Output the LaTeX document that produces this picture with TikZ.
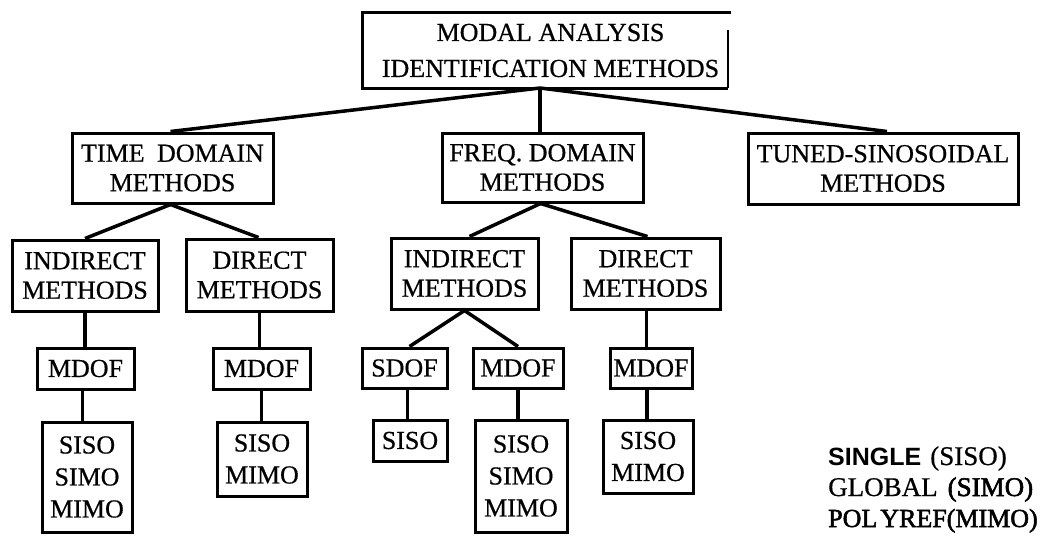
\documentclass[tikz,border=0pt]{standalone}
\usepackage{fontspec}
\setmainfont{Liberation Serif}[FakeBold=0.6]
\setsansfont{Liberation Sans}
\newfontfamily\heavyserif{Liberation Serif}[FakeBold=2]
\newcommand\boxfont{\fontsize{26}{29.5}\selectfont}
\newcommand\listfont{\fontsize{26}{32}\selectfont}
\begin{document}
\begin{tikzpicture}[x=1pt,y=-1pt,
  box/.style={draw, line width=3pt, inner sep=0pt, align=center, font=\boxfont},
  tall/.style={box, font=\listfont},
  link/.style={line width=3.5pt},
  legend/.style={anchor=base west, inner sep=0pt},
]
\useasboundingbox (0,0) rectangle (1044,539);

% root box (outline drawn by hand: the right side is broken)
\node[inner sep=0pt, align=center, minimum width=365, minimum height=75,
      font=\fontsize{26}{36}\selectfont] (root) at (545.5,50.5)
      {\hspace*{10pt}MODAL ANALYSIS\\\hspace*{10pt}IDENTIFICATION METHODS};
\draw[line width=3pt] ([xshift=3]root.north east) -- (root.north west)
      -- (root.south west) -- (root.south east);
\draw[line width=2pt] (root.south east) -- ([yshift=-17]root.north east);
\coordinate (j0) at (540,88);

% second level
\node[box, minimum width=201, minimum height=70] (td) at (172.5,168) {TIME\hspace{6pt} DOMAIN\\METHODS};
\node[box, minimum width=201, minimum height=69] (fd) at (542.5,167.5) {FREQ. DOMAIN\\METHODS};
\node[box, minimum width=270, minimum height=71] (tuned) at (883,168.5) {TUNED-SINOSOIDAL\\METHODS};

% time domain branch
\node[box, minimum width=146, minimum height=71] (tdi) at (85,275.5) {INDIRECT\\METHODS};
\node[box, minimum width=147, minimum height=72] (tdd) at (259.5,275) {DIRECT\\METHODS};
\node[box, minimum width=97, minimum height=41] (tdim) at (85.5,368.5) {MDOF};
\node[tall, minimum width=90, minimum height=110] (tdis) at (87,477) {SISO\\SIMO\\MIMO};
\node[box, minimum width=97, minimum height=41] (tddm) at (261.5,368.5) {MDOF};
\node[tall, minimum width=90, minimum height=74] (tdds) at (262,459) {SISO\\MIMO};

% frequency domain branch
\node[box, minimum width=147, minimum height=71] (fdi) at (464.5,273.5) {INDIRECT\\METHODS};
\node[box, minimum width=149, minimum height=71] (fdd) at (645.5,273.5) {DIRECT\\METHODS};
\node[box, minimum width=85, minimum height=40] (sdof) at (404.5,368) {SDOF};
\node[box, minimum width=90, minimum height=40] (fdim) at (518,368) {MDOF};
\node[box, minimum width=74, minimum height=41] (fdsiso) at (410,440.5) {SISO};
\node[tall, minimum width=92, minimum height=112] (fdis) at (521,476) {SISO\\SIMO\\MIMO};
\node[box, minimum width=82, minimum height=40] (fddm) at (651,368) {MDOF};
\node[tall, minimum width=90, minimum height=73] (fdds) at (648,456.5) {SISO\\MIMO};

% connectors
\draw[link] (j0) -- ([xshift=-2]td.north);
\draw[link] (j0) -- (j0 |- fd.north);
\draw[link] (j0) -- ([xshift=4]tuned.north);

\draw[link] ([xshift=-2]td.south) -- (tdi.north);
\draw[link] ([xshift=-2]td.south) -- ([xshift=-1]tdd.north);
\draw[link] (tdi.south) -- (tdi.south |- tdim.north);
\draw[link] ([xshift=-3]tdim.south) -- ([xshift=-3]tdim.south |- tdis.north);
\draw[link] (tdd.south) -- (tdd.south |- tddm.north);
\draw[link] (tddm.south) -- (tddm.south |- tdds.north);

\draw[link] ([xshift=-2]fd.south) -- ([xshift=5]fdi.north);
\draw[link] ([xshift=-2]fd.south) -- ([xshift=2]fdd.north);
\draw[link] (fdi.south) -- ([xshift=5]sdof.north);
\draw[link] (fdi.south) -- (fdim.north);
\draw[link] ([xshift=3]sdof.south) -- ([xshift=3]sdof.south |- fdsiso.north);
\draw[link] (fdim.south) -- (fdim.south |- fdis.north);
\draw[link] ([xshift=1]fdd.south) -- ([xshift=1]fdd.south |- fddm.north);
\draw[link] ([xshift=-4]fddm.south) -- ([xshift=-4]fddm.south |- fdds.north);

% legend
\node[legend] (leg1) at (828,465)
  {{\sffamily\bfseries\fontsize{25}{25}\selectfont SINGLE}\hspace{9pt}{\fontsize{27}{27}\selectfont(SISO)}};
\node[legend, font=\fontsize{27}{27}\selectfont] (leg2) at (828,496)
  {GLOBAL\hspace{10pt}{\heavyserif(SIMO)}};
\node[legend, font=\fontsize{26}{26}\selectfont] (leg3) at (828,527)
  {\heavyserif POL\hspace{3pt}YREF(MIMO)};
\end{tikzpicture}
\end{document}
